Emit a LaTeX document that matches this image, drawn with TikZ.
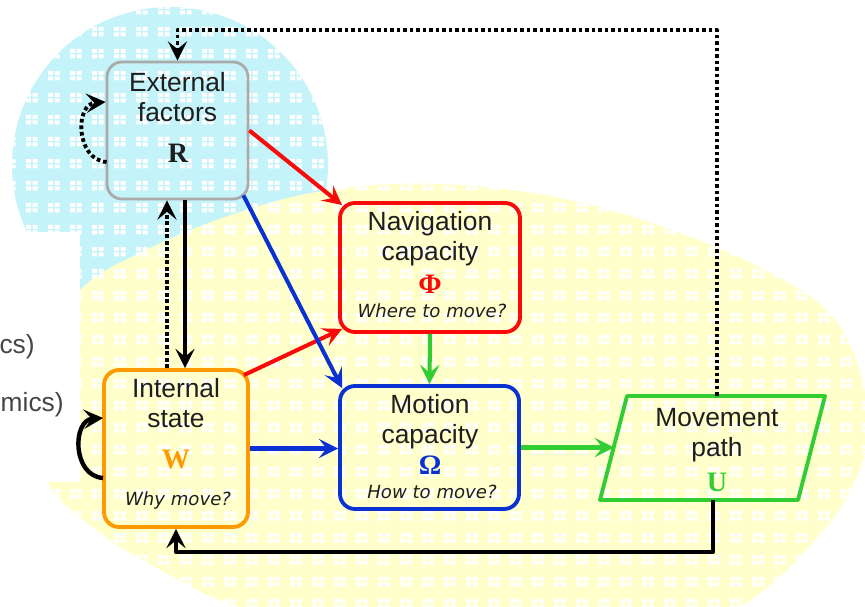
\documentclass[tikz,border=0pt]{standalone}
\usepackage{fontspec}
\setmainfont{Liberation Sans}
\newfontfamily\grk{Liberation Serif}
\newfontfamily\qfont{DejaVu Sans}
\usetikzlibrary{arrows.meta}
\definecolor{cyanbg}{RGB}{196,243,250}
\definecolor{yelbg}{RGB}{255,255,204}
\definecolor{cred}{RGB}{250,10,10}
\definecolor{cblue}{RGB}{10,50,210}
\definecolor{corange}{RGB}{255,153,0}
\definecolor{cgreen}{RGB}{50,205,50}
\definecolor{cgray}{RGB}{170,170,170}
\definecolor{ctext}{RGB}{30,30,30}
\definecolor{cleft}{RGB}{70,70,70}
\tikzset{
  box/.style={draw, rounded corners=8.5pt, line width=2.2pt, inner sep=0pt},
  txt/.style={align=center, inner sep=0pt, text=ctext, font=\fontsize{15}{17}\selectfont},
  sym/.style={inner sep=0pt, font=\grk\bfseries\fontsize{16}{16}\selectfont},
  ques/.style={inner sep=0pt, text=ctext, font=\qfont\itshape\fontsize{10.3}{12}\selectfont},
  conn/.style={line width=2.3pt},
  arr/.style={-{Stealth[length=11pt,width=11pt,inset=4.5pt]}},
  dotline/.style={line width=2.2pt, dash pattern=on 2.1pt off 1.6pt, black},
}
\begin{document}
\begin{tikzpicture}[x=0.02cm,y=-0.02cm, line join=round]
\useasboundingbox (0,0) rectangle (865,607);
% backgrounds
\fill[cyanbg] (170,165) circle [radius=3.16cm];
\def\yelpath{plot[smooth cycle, tension=0.65] coordinates {(80,290) (150,248) (240,212) (330,190) (440,184) (560,198) (680,233) (780,278) (835,320) (862,380) (867,440) (848,495) (815,540) (770,585) (720,615) (600,650) (400,650) (240,607) (170,575) (100,533) (47,482) (35,420) (50,350)}}
\fill[yelbg] \yelpath;
\begin{scope}
\clip (170,165) circle [radius=3.16cm];
\fill[white] foreach \i in {0,...,39}{ foreach \j in {0,...,27}{ (\i*22+4,\j*22+5) rectangle ++(5,4) (\i*22+10.5,\j*22+5) rectangle ++(5,4) (\i*22+4,\j*22+10.5) rectangle ++(5,4) (\i*22+10.5,\j*22+10.5) rectangle ++(5,4) } };
\end{scope}
\begin{scope}
\clip \yelpath;
\fill[white] foreach \i in {0,...,39}{ foreach \j in {0,...,27}{ (\i*22+4,\j*22+5) rectangle ++(5,4) (\i*22+10.5,\j*22+5) rectangle ++(5,4) (\i*22+4,\j*22+10.5) rectangle ++(5,4) (\i*22+10.5,\j*22+10.5) rectangle ++(5,4) } };
\end{scope}
\fill[white] (0,232) rectangle (80,482);
\node[anchor=east, inner sep=0pt, text=cleft, font=\fontsize{15}{17}\selectfont] (lcs) at (35,347) {cs)};
\node[anchor=east, inner sep=0pt, text=cleft, font=\fontsize{15}{17}\selectfont] (lmics) at (64,405) {mics)};

% boxes
\node[box, draw=cgray, line width=1.6pt, minimum width=2.82cm, minimum height=2.74cm] (R) at (177.5,130.5) {};
\node[box, draw=cred, minimum width=3.6cm, minimum height=2.58cm] (Nav) at (430,267.5) {};
\node[box, draw=corange, minimum width=2.88cm, minimum height=3.14cm] (W) at (176,448.5) {};
\node[box, draw=cblue, minimum width=3.58cm, minimum height=2.46cm] (Mot) at (429.5,447.5) {};
\coordinate (U1) at (627,396);
\coordinate (U2) at (825,396);
\coordinate (U3) at (798,500);
\coordinate (U4) at (600,500);
\coordinate (Uleft) at (614,447.5);
\coordinate (Utop) at (717,396);
\coordinate (Ubot) at (713,500);
\draw[cgreen, line width=2.2pt] (U1) -- (U2) -- (U3) -- (U4) -- cycle;

% texts
\node[txt] (Rt) at (177.5,97) {External\\factors};
\node[sym, text=ctext] (Rs) at (178,153) {R};
\node[txt] (Navt) at (430,239) {Navigation\\capacity};
\node[sym, text=cred] (Navs) at (430,284) {Φ};
\node[ques] (Navq) at (432,311) {Where to move?};
\node[txt] (Wt) at (176,403.5) {Internal\\state};
\node[sym, text=corange] (Ws) at (176,460) {W};
\node[ques] (Wq) at (178,501) {Why move?};
\node[txt] (Mott) at (430,421.5) {Motion\\capacity};
\node[sym, text=cblue] (Mots) at (430,465) {Ω};
\node[ques] (Motq) at (432,492) {How to move?};
\node[txt] (Ut) at (717,435) {Movement\\path};
\node[sym, text=cgreen] (Us) at (717,482) {U};

% connectors
\draw[conn, cred, arr] (R.east) -- ([shift={(4,4)}]Nav.north west);
\draw[conn, cred, arr] ([shift={(-6,7)}]W.north east) -- ([shift={(4,-5)}]Nav.south west);
\draw[conn, cblue, arr] ([shift={(-6,-5)}]R.south east) -- ([shift={(4,4)}]Mot.north west);
\draw[conn, cblue, arr] (W.east) -- (W.east -| Mot.west);
\draw[conn, cgreen, arr] (Nav.south) -- (Mot.north);
\draw[conn, cgreen, arr] (Mot.east) -- (Mot.east -| Uleft);
\coordinate (Rs1) at ([shift={(7.5,0)}]R.south);
\coordinate (Rd) at ([shift={(-10.5,0)}]R.south);
\draw[conn, black, line width=2.5pt, arr] (Rs1) -- (Rs1 |- W.north);
\draw[dotline, arr] (Rd |- W.north) -- (Rd);
\draw[dotline, arr] (Utop) |- (R.north |- 0,30) -- (R.north);
\draw[conn, black, line width=2.5pt, arr] (Ubot) |- (W.south |- 0,552) -- (W.south);
\draw[dotline, arr] ([shift={(1,31.5)}]R.west) .. controls +(-31,-2) and +(-31,2) .. ([shift={(0,-28.5)}]R.west);
\draw[conn, black, line width=2.5pt, arr] ([shift={(1,29.5)}]W.west) .. controls +(-31,-2) and +(-31,2) .. ([shift={(1,-30.5)}]W.west);
\end{tikzpicture}
\end{document}
